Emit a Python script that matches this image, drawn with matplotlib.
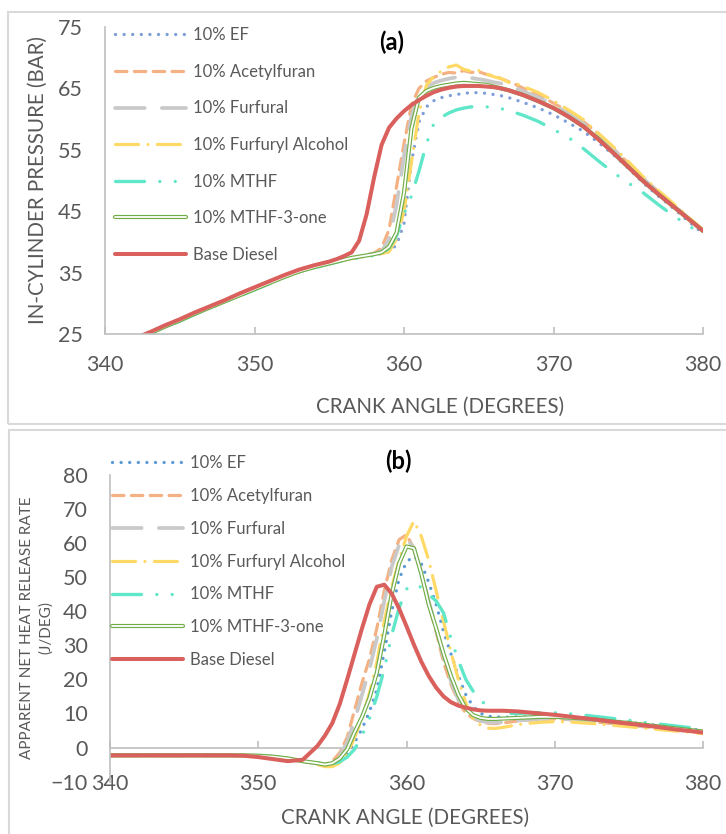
import numpy as np
import matplotlib.pyplot as plt
from matplotlib.patches import Rectangle

plt.rcParams['font.family'] = ['Lato', 'DejaVu Sans']

# ---------------------- DATA ---------------------------------
crank = [340, 341, 342, 343, 344, 345, 346, 347, 348, 349, 350, 351, 352, 353, 354,
         354.5, 355, 355.5, 356, 356.5, 357, 357.5, 358, 358.5, 359, 359.5, 360, 360.5,
         361, 361.5, 362, 362.5, 363, 363.5, 364, 364.5, 365, 365.5, 366, 366.5, 367,
         367.5, 368, 369, 370, 371, 372, 373, 374, 375, 376, 377, 378, 379, 380]

fuels = ['10% EF', '10% Acetylfuran', '10% Furfural', '10% Furfuryl Alcohol',
         '10% MTHF', '10% MTHF-3-one', 'Base Diesel']

# (a) in-cylinder pressure [bar]
p_ef = [22.1, 23.1, 24.1, 25.1, 26.2, 27.2, 28.3, 29.3, 30.3, 31.3, 32.3, 33.3, 34.3, 35.2, 35.9,
        36.2, 36.5, 36.8, 37.1, 37.3, 37.5, 37.7, 37.9, 38.1, 38.4, 39.5, 43.0, 53.0, 59.5, 62.0,
        63.0, 63.5, 63.8, 64.0, 64.2, 64.3, 64.3, 64.2, 64.0, 63.8, 63.5, 63.1, 62.7,
        61.8, 60.7, 59.4, 58.0, 56.2, 54.2, 52.0, 49.6, 47.5, 45.5, 43.4, 41.4]
p_acetyl = [22.1, 23.1, 24.1, 25.1, 26.2, 27.2, 28.3, 29.3, 30.3, 31.3, 32.3, 33.3, 34.3, 35.2, 35.9,
            36.2, 36.5, 36.8, 37.1, 37.4, 37.6, 37.9, 38.2, 39.0, 42.0, 49.0, 56.0, 62.3, 65.0, 66.2,
            66.8, 67.3, 67.6, 67.5, 67.9, 67.6, 67.7, 67.3, 67.0, 66.6, 66.1, 65.6, 65.0,
            63.9, 62.6, 61.2, 59.6, 57.6, 55.2, 52.8, 50.4, 48.2, 46.1, 44.0, 41.9]
p_furfural = [22.1, 23.1, 24.1, 25.1, 26.2, 27.2, 28.3, 29.3, 30.3, 31.3, 32.3, 33.3, 34.3, 35.2, 35.9,
              36.2, 36.5, 36.8, 37.1, 37.4, 37.6, 37.8, 38.1, 38.4, 40.5, 46.0, 54.0, 60.5, 64.0, 65.2,
              65.9, 66.3, 66.6, 66.8, 66.8, 66.7, 66.5, 66.3, 66.0, 65.8, 65.4, 65.0, 64.5,
              63.5, 62.3, 60.9, 59.3, 57.3, 55.0, 52.7, 50.3, 48.1, 46.0, 43.9, 41.8]
p_alcohol = [22.1, 23.1, 24.1, 25.1, 26.2, 27.2, 28.3, 29.3, 30.3, 31.3, 32.3, 33.3, 34.3, 35.2, 35.9,
             36.2, 36.5, 36.8, 37.1, 37.3, 37.5, 37.7, 37.9, 38.1, 38.4, 40.5, 45.0, 53.0, 61.0, 65.5,
             67.0, 67.8, 68.5, 68.8, 68.1, 67.8, 67.9, 67.4, 66.9, 66.6, 66.0, 65.8, 65.3,
             64.3, 63.0, 61.5, 59.9, 57.7, 55.5, 53.1, 50.6, 48.4, 46.3, 44.1, 42.0]
p_mthf = [22.0, 23.0, 24.0, 25.0, 26.1, 27.1, 28.2, 29.2, 30.2, 31.2, 32.2, 33.2, 34.2, 35.1, 35.8,
          36.1, 36.4, 36.7, 37.0, 37.2, 37.4, 37.6, 37.8, 38.0, 39.0, 41.0, 44.5, 47.5, 51.5, 56.0,
          59.3, 60.3, 61.0, 61.5, 61.8, 62.0, 62.0, 62.0, 61.9, 61.7, 61.4, 61.0, 60.6,
          59.6, 58.3, 57.0, 55.2, 53.2, 51.3, 49.6, 48.0, 46.1, 44.3, 42.7, 41.1]
p_mthf3 = [22.1, 23.1, 24.1, 25.1, 26.2, 27.2, 28.3, 29.3, 30.3, 31.3, 32.3, 33.3, 34.3, 35.2, 35.9,
           36.2, 36.5, 36.8, 37.1, 37.4, 37.6, 37.8, 38.0, 38.3, 39.2, 41.5, 48.0, 58.5, 63.5, 64.6,
           65.1, 65.4, 65.6, 65.8, 65.9, 65.8, 65.7, 65.6, 65.3, 65.0, 64.7, 64.3, 63.9,
           62.9, 61.8, 60.4, 58.8, 56.8, 54.5, 52.2, 49.9, 47.8, 45.8, 43.8, 41.8]
p_diesel = [22.3, 23.3, 24.3, 25.3, 26.4, 27.4, 28.5, 29.5, 30.5, 31.6, 32.6, 33.6, 34.6, 35.5, 36.2,
            36.5, 36.8, 37.2, 37.7, 38.3, 40.2, 44.5, 50.5, 55.8, 58.6, 60.1, 61.3, 62.3, 63.1, 63.8,
            64.4, 64.8, 65.1, 65.3, 65.4, 65.4, 65.4, 65.3, 65.2, 65.0, 64.7, 64.3, 63.9,
            62.9, 61.8, 60.4, 58.8, 56.7, 54.5, 52.2, 49.9, 47.8, 45.8, 43.8, 41.8]

# (b) apparent net heat release rate [J/deg]
q_ef = [-2.3, -2.3, -2.3, -2.3, -2.3, -2.3, -2.3, -2.3, -2.3, -2.3, -2.4, -2.7, -3.2, -4.0, -4.6,
        -5.0, -4.8, -3.8, -1.8, 1.5, 5.5, 10.5, 17.0, 28.0, 40.0, 49.5, 54.5, 56.2, 54.0, 48.5,
        42.0, 34.0, 27.5, 21.0, 15.5, 12.0, 10.0, 9.2, 9.0, 8.9, 8.9, 9.0, 9.0,
        9.1, 9.1, 8.9, 8.6, 8.2, 7.8, 7.4, 6.9, 6.5, 6.0, 5.5, 5.0]
q_acetyl = [-2.3, -2.3, -2.3, -2.3, -2.3, -2.3, -2.3, -2.3, -2.3, -2.3, -2.4, -2.7, -3.2, -4.0, -4.8,
            -5.0, -4.0, -1.5, 3.0, 11.0, 19.0, 26.0, 35.0, 46.0, 55.0, 61.0, 62.5, 58.5, 51.0, 42.0,
            34.0, 25.0, 18.5, 13.5, 10.0, 8.5, 7.6, 7.1, 7.0, 7.2, 7.5, 7.8, 8.0,
            8.3, 8.4, 8.2, 7.8, 7.4, 7.0, 6.5, 6.1, 5.7, 5.2, 4.8, 4.3]
q_furfural = [-2.3, -2.3, -2.3, -2.3, -2.3, -2.3, -2.3, -2.3, -2.3, -2.3, -2.4, -2.7, -3.2, -4.0, -4.7,
              -5.0, -4.3, -2.3, 1.5, 8.0, 15.5, 23.0, 32.0, 43.0, 53.0, 59.5, 61.5, 58.5, 51.5, 43.0,
              35.0, 26.5, 19.5, 14.0, 10.5, 8.8, 7.8, 7.4, 7.3, 7.4, 7.6, 7.9, 8.1,
              8.4, 8.5, 8.3, 7.9, 7.5, 7.1, 6.6, 6.2, 5.8, 5.3, 4.9, 4.4]
q_alcohol = [-2.3, -2.3, -2.3, -2.3, -2.3, -2.3, -2.3, -2.3, -2.3, -2.3, -2.4, -2.7, -3.2, -4.0, -5.0,
             -5.6, -5.6, -4.5, -2.0, 3.0, 8.5, 16.0, 25.0, 37.0, 47.0, 55.0, 62.0, 66.5, 62.0, 55.0,
             46.0, 37.0, 28.0, 20.0, 13.0, 8.5, 6.5, 5.7, 5.6, 5.9, 6.3, 6.7, 7.0,
             7.4, 7.6, 7.5, 7.2, 6.9, 6.5, 6.1, 5.7, 5.3, 4.9, 4.5, 4.1]
q_mthf = [-2.3, -2.3, -2.3, -2.3, -2.3, -2.3, -2.3, -2.3, -2.3, -2.3, -2.4, -2.7, -3.2, -3.9, -4.4,
          -4.8, -4.8, -4.2, -2.8, -0.5, 3.5, 8.5, 15.0, 23.0, 33.0, 41.0, 46.5, 48.0, 47.0, 45.0,
          43.0, 39.5, 32.0, 25.5, 20.0, 16.5, 14.0, 11.8, 10.8, 10.2, 10.0, 10.0, 10.1,
          10.2, 10.2, 9.9, 9.5, 9.0, 8.5, 8.0, 7.4, 6.9, 6.4, 5.9, 5.5]
q_mthf3 = [-2.3, -2.3, -2.3, -2.3, -2.3, -2.3, -2.3, -2.3, -2.3, -2.3, -2.4, -2.7, -3.2, -4.0, -4.6,
           -5.0, -4.6, -3.2, -0.5, 4.5, 9.0, 14.5, 22.0, 33.0, 45.0, 54.0, 59.0, 58.5, 51.0, 42.0,
           35.0, 27.5, 21.0, 15.5, 11.5, 9.5, 8.7, 8.4, 8.4, 8.5, 8.6, 8.7, 8.8,
           9.0, 9.0, 8.8, 8.5, 8.1, 7.6, 7.2, 6.7, 6.2, 5.7, 5.2, 4.7]
q_diesel = [-2.3, -2.3, -2.3, -2.3, -2.3, -2.3, -2.3, -2.3, -2.3, -2.4, -2.8, -3.4, -4.0, -3.6, 0.5,
            3.5, 7.2, 12.8, 20.0, 27.5, 35.0, 42.0, 47.2, 47.8, 45.2, 40.8, 35.6, 30.2, 25.2, 21.0,
            17.6, 15.0, 13.3, 12.3, 11.7, 11.2, 10.9, 10.8, 10.8, 10.8, 10.7, 10.6, 10.4,
            10.0, 9.6, 9.1, 8.6, 8.1, 7.5, 7.0, 6.5, 6.0, 5.4, 4.9, 4.4]

pressure = [p_ef, p_acetyl, p_furfural, p_alcohol, p_mthf, p_mthf3, p_diesel]
hrr = [q_ef, q_acetyl, q_furfural, q_alcohol, q_mthf, q_mthf3, q_diesel]

# line styles (dashes in units of line width)
styles = [
    dict(color='#7F9DD9', lw=2.4, dashes=(0.01, 2.57)),
    dict(color='#F4B183', lw=2.3, dashes=(3.6, 2.3)),
    dict(color='#C9C9C9', lw=2.7, dashes=(7.9, 4.6)),
    dict(color='#FFD966', lw=2.3, dashes=(7.2, 2.95, 0.01, 2.95)),
    dict(color='#60E6C8', lw=2.4, dashes=(8.7, 4.6, 0.01, 4.6, 0.01, 4.6)),
    dict(color='#70AD47', lw=3.0, dashes=None),
    dict(color='#D9605D', lw=2.9, dashes=None),
]
ef_color_b = '#5B9BD5'
grey_txt = '#595959'
axis_col = '#BFBFBF'

W, H = 726, 834
fig = plt.figure(figsize=(W / 100, H / 100), dpi=100)

# panel frames
fig.patches.append(Rectangle((8 / W, 1 - 424 / H), 1.0, 412 / H, transform=fig.transFigure,
                             fill=False, ec='#D9D9D9', lw=1.5))
fig.patches.append(Rectangle((9 / W, -0.05), 1.0, 1 - 430 / H + 0.05, transform=fig.transFigure,
                             fill=False, ec='#D9D9D9', lw=1.5))


def draw_curves(ax, data, ef_color=None):
    handles = []
    for i, (y, st) in enumerate(zip(data, styles)):
        col = st['color']
        if i == 0 and ef_color is not None:
            col = ef_color
        if i == 5:
            # double line: green outline, white core
            l1, = ax.plot(crank, y, color=col, lw=st['lw'], solid_capstyle='round')
            l2, = ax.plot(crank, y, color='white', lw=1.3, solid_capstyle='round')
            handles.append((l1, l2))
        elif st['dashes'] is None:
            l1, = ax.plot(crank, y, color=col, lw=st['lw'], solid_capstyle='round')
            handles.append(l1)
        else:
            l1, = ax.plot(crank, y, color=col, lw=st['lw'], dashes=st['dashes'],
                          dash_capstyle='round')
            handles.append(l1)
    return handles


def style_axes(ax):
    for s in ['top', 'right']:
        ax.spines[s].set_visible(False)
    for s in ['left', 'bottom']:
        ax.spines[s].set_color(axis_col)
        ax.spines[s].set_linewidth(1.2)
    ax.set_xlim(340, 380)
    ax.set_xticks([340, 350, 360, 370, 380])
    ax.tick_params(axis='y', length=0, pad=16, labelsize=15.5, labelcolor=grey_txt)
    ax.tick_params(axis='x', direction='in', length=5, width=1.2, color=axis_col,
                   labelsize=15.5, labelcolor=grey_txt)


leg_kw = dict(loc='upper left', bbox_transform=fig.transFigure, frameon=False, fontsize=12,
              handlelength=4.26, handletextpad=0.42, borderpad=0, borderaxespad=0,
              labelcolor=grey_txt)

# ---------------- (a) pressure ----------------
ax1 = fig.add_axes([105 / W, 1 - 334 / H, 598 / W, 307 / H])
h1 = draw_curves(ax1, pressure)
style_axes(ax1)
ax1.set_ylim(25, 75)
ax1.set_yticks([25, 35, 45, 55, 65, 75])
ax1.tick_params(axis='x', pad=15)
ax1.legend(h1, fuels, bbox_to_anchor=(115 / W, 1 - 27 / H), labelspacing=1.24, **leg_kw)

fig.text(392 / W, 1 - 42 / H, '(a)', weight='bold', fontsize=17, ha='center', va='center')
fig.text(440 / W, 1 - 407 / H, 'CRANK ANGLE (DEGREES)', fontsize=14.8, color=grey_txt,
         ha='center', va='center')
fig.text(38 / W, 1 - 180 / H, 'IN-CYLINDER PRESSURE (BAR)', fontsize=14.8, color=grey_txt,
         rotation=90, ha='center', va='center')

# ---------------- (b) heat release rate ----------------
ax2 = fig.add_axes([110 / W, 1 - 781.6 / H, 593 / W, 306.6 / H])
h2 = draw_curves(ax2, hrr, ef_color=ef_color_b)
style_axes(ax2)
ax2.set_ylim(-10, 80)
ax2.set_yticks(np.arange(-10, 81, 10))
ax2.spines['bottom'].set_visible(False)
ax2.tick_params(axis='x', length=0, pad=-5.5)
# horizontal axis line crossing at zero
sec = ax2.secondary_xaxis(10 / 90)
sec.set_xticks([340, 350, 360, 370, 380])
sec.tick_params(direction='in', length=5, width=1.2, color=axis_col, labelbottom=False)
sec.spines['bottom'].set_color(axis_col)
sec.spines['bottom'].set_linewidth(1.2)

ax2.legend(h2, fuels, bbox_to_anchor=(112 / W, 1 - 455 / H), labelspacing=1.01, **leg_kw)

fig.text(398 / W, 1 - 461 / H, '(b)', weight='bold', fontsize=17, ha='center', va='center')
fig.text(405 / W, 1 - 818 / H, 'CRANK ANGLE (DEGREES)', fontsize=14.8, color=grey_txt,
         ha='center', va='center')
fig.text(36.5 / W, 1 - 628 / H, 'APPARENT NET HEAT RELEASE RATE\n(J/DEG)', fontsize=11,
         color=grey_txt, rotation=90, ha='center', va='center', linespacing=1.35)

fig.savefig('out.png', dpi=100)
